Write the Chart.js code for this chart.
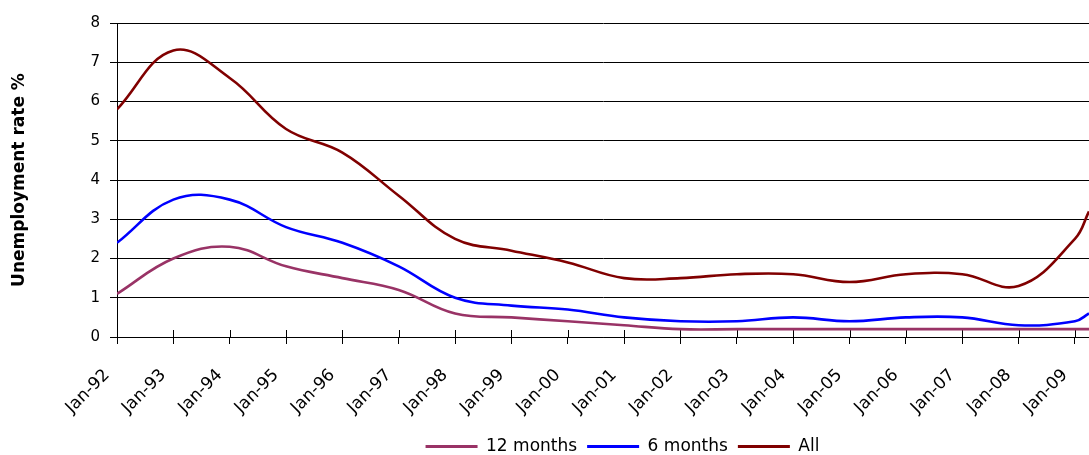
<!DOCTYPE html>
<html>
<head>
<meta charset="utf-8">
<script src="https://cdn.jsdelivr.net/npm/chart.js@4.4.1/dist/chart.umd.min.js"></script>
<style>
  html, body { margin: 0; padding: 0; background: #ffffff; }
  #wrap { width: 1089px; height: 455px; position: relative; }
</style>
</head>
<body>
<div id="wrap"><canvas id="chart"></canvas></div>
<script>
// Tick labels for the yearly axis (one per January)
const yearLabels = ["Jan-92", "Jan-93", "Jan-94", "Jan-95", "Jan-96", "Jan-97", "Jan-98", "Jan-99",
  "Jan-00", "Jan-01", "Jan-02", "Jan-03", "Jan-04", "Jan-05", "Jan-06", "Jan-07", "Jan-08", "Jan-09"];

// Observation times, in years since Jan-92
const periods = [0, 1, 2, 3, 4, 5, 6, 7, 8, 9, 10, 11, 12, 13, 14, 15, 16, 17, 17.25];

// Unemployment rate (%) by duration of unemployment
const twelveMonths = [1.1, 2.0, 2.3, 1.8, 1.5, 1.2, 0.6, 0.5, 0.4, 0.3, 0.2, 0.2, 0.2, 0.2, 0.2, 0.2, 0.2, 0.2, 0.2];
const sixMonths    = [2.4, 3.5, 3.5, 2.8, 2.4, 1.8, 1.0, 0.8, 0.7, 0.5, 0.4, 0.4, 0.5, 0.4, 0.5, 0.5, 0.3, 0.4, 0.6];
const allDurations = [5.8, 7.3, 6.6, 5.3, 4.7, 3.6, 2.5, 2.2, 1.9, 1.5, 1.5, 1.6, 1.6, 1.4, 1.6, 1.6, 1.3, 2.5, 3.2];

const toPoints = values => values.map((v, i) => ({ x: periods[i], y: v }));

// Short tick marks that cross the x axis into the plot area
const crossTicks = {
  id: 'crossTicks',
  beforeDatasetsDraw(chart) {
    const xs = chart.scales.x;
    const ctx = chart.ctx;
    const bottom = chart.chartArea.bottom;
    ctx.save();
    ctx.strokeStyle = '#000000';
    ctx.lineWidth = 1;
    xs.ticks.forEach(t => {
      const px = Math.round(xs.getPixelForValue(t.value)) + 0.5;
      ctx.beginPath();
      ctx.moveTo(px, bottom - 7);
      ctx.lineTo(px, bottom);
      ctx.stroke();
    });
    ctx.restore();
  }
};

// Place the legend under the plot area rather than the whole canvas
const legendOffset = {
  id: 'legendOffset',
  afterLayout(chart) {
    const lg = chart.legend;
    if (!lg) return;
    lg.left += 78; lg.right += 78;
    lg.top += 10; lg.bottom += 10;
  }
};

const DARK = '#000000';

new Chart(document.getElementById('chart'), {
  type: 'line',
  data: {
    datasets: [
      { label: '12 months', data: toPoints(twelveMonths), borderColor: '#993366', backgroundColor: '#993366' },
      { label: '6 months',  data: toPoints(sixMonths),    borderColor: '#0000ff', backgroundColor: '#0000ff' },
      { label: 'All',       data: toPoints(allDurations), borderColor: '#800000', backgroundColor: '#800000' }
    ]
  },
  options: {
    responsive: true,
    maintainAspectRatio: false,
    animation: false,
    events: [],
    layout: { padding: { top: 23, right: 0, left: 0, bottom: 0 } },
    elements: {
      line: { borderWidth: 2.6, tension: 0.4, fill: false },
      point: { radius: 0 }
    },
    scales: {
      x: {
        type: 'linear',
        min: 0,
        max: 17.25,
        afterBuildTicks: scale => { scale.ticks = yearLabels.map((_, i) => ({ value: i })); },
        afterFit: scale => { scale.height = 81; scale.paddingRight = 0; scale.paddingLeft = 0; },
        grid: { display: true, drawOnChartArea: false, drawTicks: true, tickLength: 7, color: DARK, lineWidth: 1 },
        border: { display: true, color: DARK, width: 1 },
        ticks: {
          autoSkip: false,
          maxRotation: 45,
          minRotation: 45,
          padding: 23,
          labelOffset: -10,
          color: DARK,
          font: { family: 'DejaVu Sans', size: 17, lineHeight: 0.9 },
          callback: value => yearLabels[value]
        }
      },
      y: {
        min: 0,
        max: 8,
        afterFit: scale => { scale.width = 117; },
        grid: { color: DARK, lineWidth: 1, tickLength: 7, drawTicks: true },
        border: { display: true, color: DARK, width: 1 },
        ticks: {
          stepSize: 1,
          padding: 10,
          color: DARK,
          font: { family: 'DejaVu Sans', size: 15 }
        },
        title: {
          display: true,
          text: 'Unemployment rate %',
          color: DARK,
          font: { family: 'DejaVu Sans', size: 17, weight: 'bold' },
          padding: { top: 9, bottom: 0 }
        }
      }
    },
    plugins: {
      tooltip: { enabled: false },
      legend: {
        position: 'bottom',
        labels: {
          boxWidth: 52,
          boxHeight: 3,
          padding: 10,
          color: DARK,
          font: { family: 'DejaVu Sans', size: 17 },
          generateLabels: chart => Chart.defaults.plugins.legend.labels.generateLabels(chart)
            .map(item => ({ ...item, lineWidth: 0 }))
        }
      }
    }
  },
  plugins: [crossTicks, legendOffset]
});
</script>
</body>
</html>
